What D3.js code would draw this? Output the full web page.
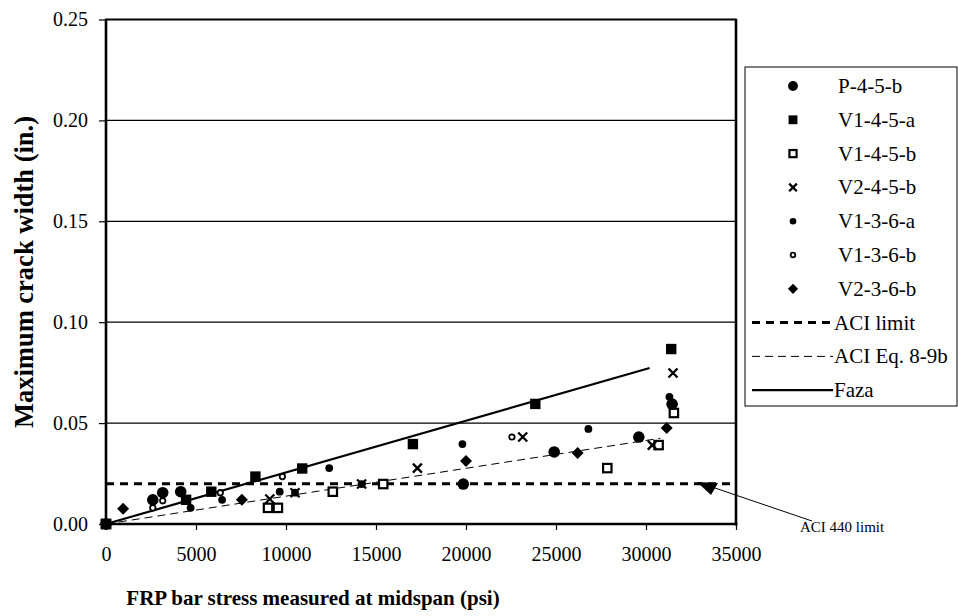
<!DOCTYPE html>
<html><head><meta charset="utf-8">
<script src="https://cdn.jsdelivr.net/npm/d3@7"></script>
<style>body{margin:0;background:#fff}svg{font-family:"Liberation Serif","Times New Roman",serif}</style>
</head><body><svg id="c" width="958" height="616"></svg>
<script>
// ---- data ----
const xTicks = [0,5000,10000,15000,20000,25000,30000,35000];
const yTicks = [0,0.05,0.10,0.15,0.20,0.25];
const P_4_5_b   = [[0,0],[2600,0.012],[3150,0.0155],[4150,0.016],[19850,0.0198],[24900,0.0357],[29600,0.0431],[31450,0.0594]];
const V1_4_5_a  = [[0,0],[4450,0.012],[5850,0.016],[8300,0.0235],[10900,0.0275],[17050,0.0396],[23850,0.0595],[31400,0.0867]];
const V1_4_5_b  = [[0,0],[9000,0.008],[9550,0.008],[12600,0.016],[15400,0.0198],[27850,0.0277],[30700,0.0391],[31550,0.055]];
const V2_4_5_b  = [[0,0],[9100,0.0124],[10500,0.0155],[14200,0.0198],[17300,0.0277],[23150,0.0431],[30350,0.0391],[31500,0.0748]];
const V1_3_6_a  = [[0,0],[4700,0.008],[6450,0.012],[9650,0.016],[10500,0.0155],[12400,0.0277],[14200,0.0198],[19800,0.0396],[26800,0.0471],[31300,0.063]];
const V1_3_6_b  = [[0,0],[2600,0.008],[3150,0.0115],[6350,0.0155],[9800,0.0235],[22550,0.0431]];
const V2_3_6_b  = [[0,0],[950,0.0075],[7550,0.012],[20000,0.0312],[26200,0.0352],[31150,0.0476]];
const aciLimit  = [[0,0.02],[35000,0.02]];
const aciEq     = [[0,0],[30800,0.0425]];
const faza      = [[0,0],[30200,0.0773]];
const legendNames = ["P-4-5-b","V1-4-5-a","V1-4-5-b","V2-4-5-b","V1-3-6-a","V1-3-6-b","V2-3-6-b","ACI limit","ACI Eq. 8-9b","Faza"];

// ---- layout ----
const svg = d3.select("#c");
const L=106, R=736, T=19.5, B=524;
const x = d3.scaleLinear().domain([0,35000]).range([L,R]);
const y = d3.scaleLinear().domain([0,0.25]).range([B,T]);

// gridlines
svg.append("g").selectAll("line").data(yTicks.filter(d=>d>0&&d<0.25)).join("line")
  .attr("x1",L).attr("x2",R).attr("y1",d=>y(d)).attr("y2",d=>y(d))
  .attr("stroke","#000").attr("stroke-width",1.2);

// axes
const xa = svg.append("g").attr("transform",`translate(0,${B})`)
  .call(d3.axisBottom(x).tickValues(xTicks).tickFormat(d3.format("d")).tickSize(6).tickSizeOuter(0).tickPadding(17));
const ya = svg.append("g").attr("transform",`translate(${L},0)`)
  .call(d3.axisLeft(y).tickValues(yTicks).tickFormat(d3.format(".2f")).tickSize(7).tickSizeOuter(0).tickPadding(11));
[xa,ya].forEach(g=>{
  g.select(".domain").remove();
  g.selectAll("line").attr("stroke","#000").attr("stroke-width",1.2);
  g.selectAll("text").attr("font-size",20).attr("fill","#000").attr("font-family","Liberation Serif");
});

// frame
svg.append("line").attr("x1",L).attr("x2",R).attr("y1",T).attr("y2",T).attr("stroke","#000").attr("stroke-width",1.8);
svg.append("line").attr("x1",L).attr("x2",L).attr("y1",T-0.8).attr("y2",B+1.5).attr("stroke","#000").attr("stroke-width",2.6);
svg.append("line").attr("x1",R).attr("x2",R).attr("y1",T-0.8).attr("y2",B+1.5).attr("stroke","#000").attr("stroke-width",2.6);
svg.append("line").attr("x1",L).attr("x2",R+1.3).attr("y1",B).attr("y2",B).attr("stroke","#000").attr("stroke-width",2.6);

// lines
const line = d3.line().x(d=>x(d[0])).y(d=>y(d[1]));
svg.append("path").attr("d",line(aciLimit)).attr("fill","none").attr("stroke","#000").attr("stroke-width",3).attr("stroke-dasharray","8,6");
svg.append("path").attr("d",line(aciEq)).attr("fill","none").attr("stroke","#000").attr("stroke-width",1).attr("stroke-dasharray","8,5");
svg.append("path").attr("d",line(faza)).attr("fill","none").attr("stroke","#000").attr("stroke-width",2.2);

// marker drawers
function drawMarker(g, type, s){
  s = s||1;
  if(type==="bigCircle") g.append("circle").attr("r",5.8*s).attr("fill","#000");
  else if(type==="fSquare") g.append("rect").attr("x",-5.2*s).attr("y",-5.2*s).attr("width",10.4*s).attr("height",10.4*s).attr("fill","#000");
  else if(type==="oSquare") g.append("rect").attr("x",-4.2*s).attr("y",-4.2*s).attr("width",8.4*s).attr("height",8.4*s).attr("fill","#fff").attr("stroke","#000").attr("stroke-width",2.2);
  else if(type==="cross") g.append("path").attr("d",`M${-4.5*s},${-4.5*s}L${4.5*s},${4.5*s}M${-4.5*s},${4.5*s}L${4.5*s},${-4.5*s}`).attr("stroke","#000").attr("stroke-width",2.3).attr("fill","none");
  else if(type==="sCircle") g.append("circle").attr("r",3.9*s).attr("fill","#000");
  else if(type==="oCircle") g.append("circle").attr("r",2.7*s).attr("fill","#fff").attr("stroke","#000").attr("stroke-width",1.8);
  else if(type==="diamond") g.append("path").attr("d",`M0,${-6*s}L${6*s},0L0,${6*s}L${-6*s},0Z`).attr("fill","#000");
}
const series = [
  {name:"P-4-5-b", data:P_4_5_b, type:"bigCircle"},
  {name:"V1-4-5-a", data:V1_4_5_a, type:"fSquare"},
  {name:"V1-4-5-b", data:V1_4_5_b, type:"oSquare"},
  {name:"V2-4-5-b", data:V2_4_5_b, type:"cross"},
  {name:"V1-3-6-a", data:V1_3_6_a, type:"sCircle"},
  {name:"V1-3-6-b", data:V1_3_6_b, type:"oCircle"},
  {name:"V2-3-6-b", data:V2_3_6_b, type:"diamond"}
];
series.forEach(sr=>{
  svg.append("g").selectAll("g").data(sr.data).join("g")
    .attr("transform",d=>`translate(${x(d[0])},${y(d[1])})`)
    .each(function(){ drawMarker(d3.select(this), sr.type, 1); });
});

// axis titles
svg.append("text").attr("x",313).attr("y",605).attr("text-anchor","middle")
  .attr("font-size",21).attr("font-weight","bold").text("FRP bar stress measured at midspan (psi)");
svg.append("text").attr("transform",`translate(33,272) rotate(-90)`).attr("text-anchor","middle")
  .attr("font-size",26.5).attr("font-weight","bold").text("Maximum crack width (in.)");

// legend
const lg = svg.append("g");
lg.append("rect").attr("x",745).attr("y",67).attr("width",212).attr("height",339).attr("fill","#fff").attr("stroke","#000").attr("stroke-width",1);
const lineStyles = [
  {w:3, dash:"8,6"},{w:1, dash:"8,5"},{w:2.2, dash:null}
];
legendNames.forEach((n,i)=>{
  const yy = 86 + i*33.8;
  if(i<7){
    const g = lg.append("g").attr("transform",`translate(793,${yy})`);
    drawMarker(g, series[i].type, 0.85);
  } else {
    const st = lineStyles[i-7];
    const p = lg.append("line").attr("x1",752).attr("x2",833).attr("y1",yy).attr("y2",yy).attr("stroke","#000").attr("stroke-width",st.w);
    if(st.dash) p.attr("stroke-dasharray",st.dash);
  }
  lg.append("text").attr("x",i<7?838:834).attr("y",yy+7).attr("font-size",21).text(n);
});

// annotation
svg.append("line").attr("x1",812).attr("y1",521).attr("x2",712).attr("y2",487).attr("stroke","#000").attr("stroke-width",1);
svg.append("path").attr("d","M697,482 L718,483 L711,495 Z").attr("fill","#000");
svg.append("text").attr("x",800).attr("y",532).attr("font-size",15).text("ACI 440 limit");
</script></body></html>
